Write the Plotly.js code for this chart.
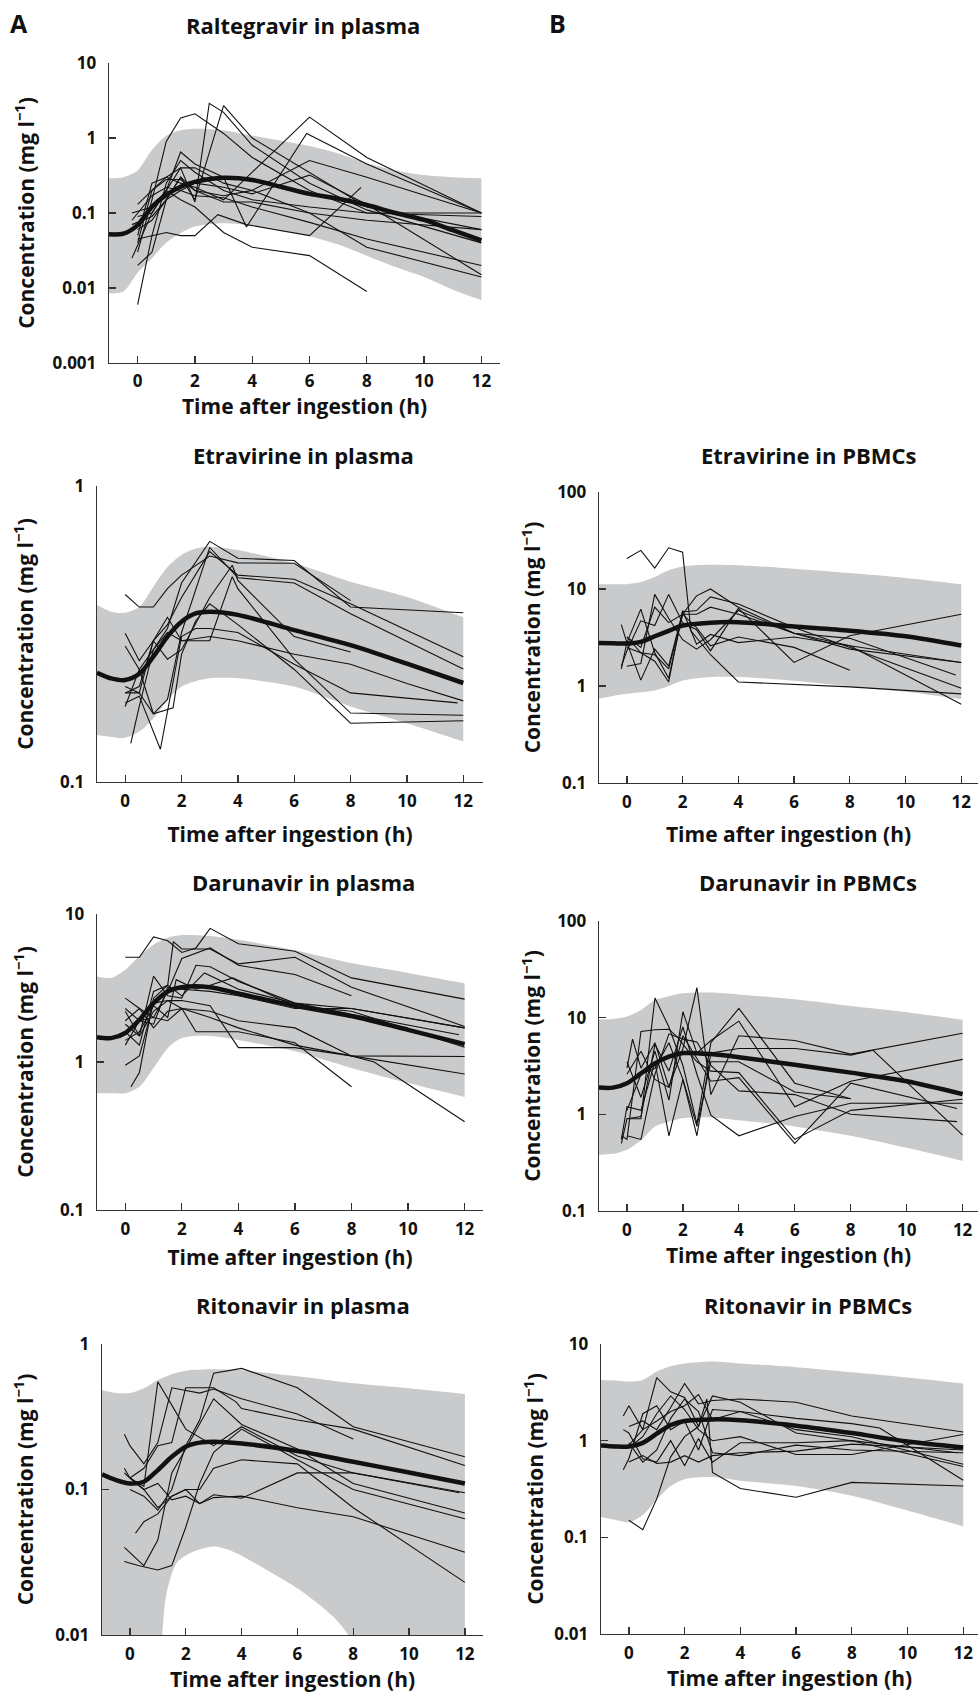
<!DOCTYPE html>
<html>
<head>
<meta charset="utf-8">
<script src="https://cdn.plot.ly/plotly-3.0.1.min.js"></script>
<style>html,body{margin:0;padding:0;background:#fff;}#chart{width:980px;height:1693px;}</style>
</head>
<body>
<div id="chart"></div>
<script>
// ---------------- DATA ----------------
const xTicks = [0, 2, 4, 6, 8, 10, 12];

// Raltegravir in plasma
const ralBandT = [-1, -0.5, 0, 0.5, 1, 1.5, 2, 3, 4, 5, 6, 7, 8, 9, 10, 11, 12];
const ralUpper = [0.29, 0.3, 0.37, 0.69, 1.07, 1.27, 1.33, 1.27, 1.07, 0.92, 0.78, 0.62, 0.46, 0.37, 0.32, 0.3, 0.29];
const ralLower = [0.0085, 0.009, 0.016, 0.025, 0.04, 0.054, 0.066, 0.073, 0.068, 0.06, 0.049, 0.038, 0.027, 0.019, 0.014, 0.0095, 0.0069];
const ralMean = [0.052, 0.053, 0.069, 0.121, 0.174, 0.224, 0.26, 0.295, 0.276, 0.224, 0.18, 0.155, 0.128, 0.1, 0.081, 0.059, 0.043];
const ralSubjT = [
  [0, 0.5, 1, 1.5, 2, 3, 4, 6, 8, 12],
  [-0.2, 0.5, 1, 1.5, 2, 2.5, 3, 4, 6, 8, 12],
  [0, 0.5, 1, 1.5, 2, 3, 4, 6, 8, 12],
  [0, 0.5, 1, 1.5, 2, 3, 4, 6, 8, 12],
  [-0.2, 0.5, 1, 1.5, 2, 3, 3.8, 5.9, 8, 12],
  [0, 0.5, 1, 1.5, 2, 3, 4, 6, 8],
  [0, 0.5, 1, 1.5, 2, 3, 4, 6, 8, 12],
  [0, 0.5, 1, 1.5, 2, 3, 4, 6, 8, 12],
  [-0.2, 0.5, 1, 1.5, 2, 3, 4, 6, 8, 12],
  [0, 0.5, 1, 1.5, 2, 2.8, 3.8, 6, 7.8],
  [0, 0.5, 1, 1.5, 2, 3, 4, 6, 8, 12],
  [0, 0.5, 1, 1.5, 2, 3, 4, 6, 8, 12],
  [-0.2, 0.5, 1, 1.5, 2, 3, 4, 6, 8, 12]
];
const ralSubjC = [
  [0.03, 0.15, 0.9, 1.85, 2.1, 1.15, 0.55, 0.2, 0.1, 0.1],
  [0.1, 0.12, 0.2, 0.4, 0.14, 2.9, 2.2, 0.8, 0.25, 0.11, 0.04],
  [0.06, 0.08, 0.15, 0.3, 0.15, 2.7, 1.0, 0.35, 0.12, 0.06],
  [0.04, 0.2, 0.3, 0.25, 0.22, 0.15, 0.35, 1.9, 0.55, 0.1],
  [0.025, 0.1, 0.2, 0.65, 0.45, 0.3, 0.065, 1.15, 0.45, 0.1],
  [0.09, 0.1, 0.2, 0.15, 0.12, 0.055, 0.035, 0.027, 0.009],
  [0.05, 0.25, 0.3, 0.4, 0.4, 0.25, 0.2, 0.5, 0.3, 0.1],
  [0.006, 0.05, 0.25, 0.5, 0.35, 0.2, 0.15, 0.12, 0.1, 0.09],
  [0.07, 0.09, 0.15, 0.2, 0.25, 0.22, 0.18, 0.32, 0.13, 0.015],
  [0.045, 0.05, 0.055, 0.05, 0.05, 0.095, 0.07, 0.05, 0.22],
  [0.13, 0.2, 0.28, 0.28, 0.2, 0.17, 0.2, 0.1, 0.08, 0.06],
  [0.02, 0.03, 0.15, 0.3, 0.2, 0.14, 0.14, 0.1, 0.035, 0.014],
  [0.08, 0.17, 0.22, 0.2, 0.17, 0.16, 0.12, 0.075, 0.045, 0.02]
];

// Etravirine in plasma
const etpBandT = [-1, -0.5, 0, 0.5, 1, 1.5, 2, 2.5, 3, 4, 6, 8, 10, 12];
const etpUpper = [0.396, 0.376, 0.373, 0.39, 0.457, 0.533, 0.585, 0.615, 0.624, 0.608, 0.548, 0.475, 0.422, 0.36];
const etpLower = [0.144, 0.142, 0.141, 0.148, 0.164, 0.189, 0.21, 0.219, 0.224, 0.224, 0.21, 0.18, 0.158, 0.137];
const etpMean = [0.234, 0.224, 0.221, 0.232, 0.265, 0.31, 0.348, 0.371, 0.376, 0.367, 0.326, 0.29, 0.251, 0.216];
const etpSubjT = [
  [0, 0.5, 1, 1.5, 2, 3, 4, 6, 8],
  [0, 0.5, 1, 1.5, 2, 3, 4, 6, 8, 12],
  [0, 0.5, 1, 1.5, 2, 3, 4, 6, 8, 12],
  [0, 0.5, 1, 1.5, 2, 3, 4, 6, 8, 12],
  [0, 0.5, 1.25, 2, 2.5, 3, 4, 6, 8, 11.8],
  [0.2, 0.5, 1, 1.5, 2, 3, 3.8, 4, 6, 8, 12],
  [0, 0.5, 1, 1.7, 2, 2.5, 3, 4, 6, 8, 12],
  [0, 0.5, 1, 1.5, 2, 3, 3.8, 4, 6, 8],
  [0, 0.5, 1, 1.5, 2, 3, 4, 6, 8, 10, 12]
];
const etpSubjC = [
  [0.43, 0.39, 0.39, 0.45, 0.5, 0.58, 0.55, 0.548, 0.41],
  [0.18, 0.24, 0.28, 0.33, 0.47, 0.65, 0.57, 0.56, 0.39, 0.373],
  [0.318, 0.257, 0.3, 0.34, 0.42, 0.6, 0.5, 0.484, 0.4, 0.265],
  [0.288, 0.24, 0.17, 0.19, 0.32, 0.62, 0.49, 0.47, 0.37, 0.241],
  [0.185, 0.195, 0.129, 0.31, 0.33, 0.33, 0.32, 0.25, 0.2, 0.185],
  [0.135, 0.18, 0.28, 0.32, 0.3, 0.3, 0.494, 0.45, 0.26, 0.171, 0.168],
  [0.21, 0.2, 0.17, 0.178, 0.27, 0.35, 0.4, 0.34, 0.24, 0.158, 0.161],
  [0.2, 0.2, 0.3, 0.26, 0.28, 0.42, 0.54, 0.48, 0.31, 0.275],
  [0.2, 0.21, 0.3, 0.36, 0.3, 0.31, 0.3, 0.27, 0.25, 0.215, 0.188]
];

// Etravirine in PBMCs
const etcBandT = [-1, -0.5, 0, 0.5, 1, 1.5, 2, 3, 4, 6, 8, 10, 12];
const etcUpper = [11.2, 11.2, 11.2, 11.8, 13.3, 15.6, 17.1, 17.8, 17.6, 16.2, 14.6, 13.0, 11.2];
const etcLower = [0.74, 0.79, 0.83, 0.86, 0.9, 1.0, 1.14, 1.24, 1.24, 1.13, 0.99, 0.87, 0.73];
const etcMean = [2.77, 2.76, 2.74, 2.85, 3.26, 3.7, 4.2, 4.5, 4.55, 4.1, 3.72, 3.26, 2.62];
const etcSubjT = [
  [0, 0.5, 1, 1.5, 2, 2.3, 3, 4, 8, 12],
  [-0.2, 0, 0.5, 1, 1.5, 2, 2.5, 3, 4, 6, 8, 12],
  [-0.2, 0, 0.5, 1, 1.5, 2, 2.5, 3, 4, 6, 8, 12],
  [0, 0.5, 1, 1.5, 2, 2.5, 3, 4, 6, 8, 12],
  [-0.2, 0, 0.5, 1, 1.5, 2, 2.5, 3, 4, 6, 8, 12],
  [0, 0.5, 1, 1.5, 2, 2.5, 3, 4, 6, 8],
  [0, 0.5, 1, 1.5, 2, 2.5, 3, 4, 6, 8, 11.8],
  [0, 0.5, 1, 1.5, 2, 2.5, 3, 4, 6, 8, 12]
];
const etcSubjC = [
  [20.6, 25, 16.4, 26.6, 24, 3.7, 2.1, 1.1, 0.98, 0.83],
  [1.5, 2.8, 6.2, 2.2, 1.2, 5.5, 8.5, 10, 6.5, 3.5, 2.6, 0.65],
  [4.3, 2.8, 1.15, 2.4, 1.6, 5.8, 6, 8.3, 7, 4, 2.5, 0.95],
  [1.6, 1.7, 8.8, 5, 3, 2.4, 3, 6, 3.5, 2.4, 1.75],
  [1.6, 2.3, 4.7, 4.2, 8.8, 4.5, 3.8, 2.3, 6.3, 1.75, 3.3, 5.5],
  [3.2, 2.2, 2.1, 1.5, 5.5, 4, 2.6, 3.2, 2.5, 1.45],
  [3.2, 2.5, 6.5, 4.5, 5.5, 5.5, 6.5, 5.5, 3.5, 3.1, 1.3],
  [2.5, 2.2, 1.8, 1.1, 6, 2.7, 3.4, 2.8, 3.2, 2.6, 1.75]
];

// Darunavir in plasma
const dapBandT = [-1, -0.5, 0, 0.5, 1, 1.5, 2, 3, 4, 6, 8, 10, 12];
const dapUpper = [3.78, 3.7, 4.2, 5.2, 6.2, 6.9, 7.2, 7.1, 6.7, 5.7, 4.66, 4.0, 3.4];
const dapLower = [0.615, 0.615, 0.615, 0.68, 0.91, 1.24, 1.45, 1.5, 1.41, 1.18, 0.91, 0.72, 0.58];
const dapMean = [1.47, 1.45, 1.57, 1.93, 2.5, 3.0, 3.2, 3.2, 2.9, 2.4, 2.04, 1.65, 1.32];
const dapSubjT = [
  [0, 0.5, 1, 1.5, 2, 2.5, 3, 4, 6, 8, 12],
  [0, 0.5, 1, 1.5, 1.7, 2, 3, 4, 6, 8, 12],
  [0, 0.5, 1, 1.5, 2, 3, 4, 6, 8],
  [0, 0.5, 1, 1.5, 2, 2.5, 3, 4, 6, 8, 12],
  [0.2, 0.5, 1, 1.5, 2, 2.8, 4, 6, 8, 11.8],
  [0, 0.5, 1, 1.5, 2, 3, 4, 6, 8, 8.8, 12],
  [0, 0.5, 1, 1.5, 1.8, 2.5, 3, 3.8, 6, 8, 12],
  [0, 0.5, 1, 1.5, 2, 2.5, 3, 4, 6, 8],
  [0, 0.5, 1, 1.5, 2, 3, 4, 6, 8, 12],
  [0, 0.5, 1, 1.5, 2, 3, 4, 6, 8, 12],
  [0, 0.5, 1, 1.5, 2, 3, 4, 6, 8, 12]
];
const dapSubjC = [
  [5.1, 5.1, 7.0, 6.6, 5.5, 5.9, 8.0, 6.3, 5.6, 3.7, 2.66],
  [1.6, 1.3, 3.0, 3.3, 6.5, 5.8, 5.8, 4.6, 5.1, 3.2, 1.74],
  [1.9, 2.3, 2.0, 3.0, 5.0, 5.9, 4.5, 3.9, 2.8],
  [2.2, 1.5, 3.8, 2.8, 2.7, 4.5, 4.4, 3.5, 2.5, 2.3, 1.7],
  [0.68, 0.85, 2.7, 3.3, 2.8, 4.0, 3.1, 2.5, 2.1, 1.53],
  [2.7, 2.3, 1.7, 2.2, 2.3, 2.2, 1.9, 1.7, 1.1, 1.0, 0.395],
  [1.4, 1.6, 2.4, 2.0, 3.6, 3.1, 3.3, 3.7, 2.4, 2.2, 1.26],
  [1.8, 1.5, 2.2, 2.6, 2.3, 1.6, 1.6, 1.6, 1.35, 0.68],
  [0.95, 1.1, 2.5, 2.6, 2.6, 2.4, 1.25, 1.25, 1.1, 1.09],
  [1.3, 1.9, 2.0, 1.9, 2.3, 2.0, 1.7, 1.3, 1.1, 0.83],
  [2.3, 1.9, 1.8, 3.2, 3.1, 3.0, 2.8, 2.3, 2.3, 1.7]
];

// Darunavir in PBMCs
const dacBandT = [-1, -0.5, 0, 0.5, 1, 1.5, 2, 3, 4, 6, 8, 10, 12];
const dacUpper = [9.6, 9.7, 10.3, 12.0, 15.2, 16.7, 17.9, 18.2, 17.4, 15.5, 13.2, 11.4, 9.5];
const dacLower = [0.38, 0.39, 0.43, 0.54, 0.75, 0.84, 0.91, 0.93, 0.87, 0.75, 0.6, 0.45, 0.33];
const dacMean = [1.89, 1.89, 2.1, 2.65, 3.37, 3.95, 4.3, 4.2, 3.9, 3.25, 2.7, 2.2, 1.62];
const dacSubjT = [
  [-0.2, 0, 0.5, 1, 1.5, 2, 2.5, 3, 4, 6, 8],
  [0, 0.5, 1, 1.5, 2, 2.5, 3, 4, 6, 8, 12],
  [0, 0.2, 0.5, 1, 1.5, 2, 2.5, 3, 4, 6, 8, 12],
  [-0.2, 0, 0.5, 1, 1.5, 1.8, 2.5, 3, 4, 6, 8, 12],
  [0, 0.5, 1, 1.5, 2, 2.5, 3, 4, 6, 8, 8.8, 12],
  [-0.2, 0, 0.5, 1, 1.5, 2, 2.5, 3, 4, 6, 8],
  [0, 0.5, 1, 1.5, 2, 2.5, 3, 4, 6, 8, 12],
  [0, 0.5, 1, 1.5, 2, 2.5, 3, 4, 6, 8, 11.8],
  [0, 0.5, 1, 1.5, 2, 2.5, 3, 4, 6, 8, 11.8]
];
const dacSubjC = [
  [0.5, 0.9, 0.9, 16, 8, 3.2, 0.8, 5.5, 12.5, 2.1, 1.45],
  [3.5, 1.5, 4.5, 1.4, 11.5, 4.3, 5.8, 9.2, 1.2, 2.2, 3.7],
  [3.0, 6.0, 3.0, 5.5, 1.9, 4.8, 20.5, 1.6, 6.5, 5.8, 4.2, 6.9],
  [0.6, 0.55, 7.2, 7.5, 7.6, 6.3, 3.5, 2.8, 2.7, 0.55, 1.1, 1.43],
  [1.1, 2.6, 3.0, 5.5, 2.3, 0.6, 4.3, 4.8, 4.8, 4.1, 4.6, 0.61],
  [0.55, 1.2, 1.1, 3.5, 0.6, 2.3, 0.75, 3.5, 3.5, 1.7, 1.45],
  [0.9, 0.95, 5.3, 2.8, 8.0, 2.6, 0.98, 0.6, 0.95, 1.3, 1.3],
  [0.6, 0.55, 2.6, 6.8, 6.0, 5.6, 3.2, 1.75, 1.6, 1.0, 0.84],
  [2.6, 4.5, 2.3, 1.9, 6.5, 3.8, 2.2, 2.4, 0.5, 2.1, 1.15]
];

// Ritonavir in plasma
const rtpUpperT = [-1, -0.5, 0, 0.5, 1, 1.5, 2, 3, 4, 6, 8, 10, 12];
const rtpUpper = [0.483, 0.46, 0.46, 0.496, 0.566, 0.62, 0.655, 0.67, 0.66, 0.6, 0.537, 0.496, 0.453];
const rtpLowerT = [-1, 0, 1.0, 1.16, 1.31, 1.67, 2.15, 2.99, 3.7, 4.9, 6.09, 7.28, 7.82, 8.5, 10, 12];
const rtpLower = [0.001, 0.001, 0.002, 0.01, 0.0193, 0.0311, 0.0364, 0.0405, 0.0374, 0.028, 0.0204, 0.0134, 0.01, 0.005, 0.002, 0.002];
const rtpMeanT = [-1, -0.5, 0, 0.5, 1, 1.5, 2, 2.5, 3, 4, 6, 8, 10, 12];
const rtpMean = [0.127, 0.116, 0.11, 0.113, 0.136, 0.168, 0.197, 0.21, 0.213, 0.207, 0.184, 0.155, 0.131, 0.11];
const rtpSubjT = [
  [0, 0.5, 1, 1.5, 2, 2.5, 3, 4, 6, 8, 12],
  [-0.2, 0, 0.5, 1, 1.5, 2, 3, 4, 6, 8, 11.8],
  [-0.2, 0, 0.5, 1, 1.5, 2, 2.5, 3, 4, 6, 8],
  [0, 0.5, 1, 1.5, 2, 3, 3.8, 4, 6, 8, 12],
  [-0.2, 0, 0.5, 1, 1.5, 2, 3, 4, 6, 8, 12],
  [-0.2, 0.3, 1, 1.5, 2, 2.5, 3, 4, 6, 8, 12],
  [0.2, 0.5, 1, 1.5, 2, 2.5, 3, 4, 6, 8, 12],
  [-0.2, 0, 0.5, 1, 1.5, 2, 2.5, 3, 4, 6, 8, 12],
  [0, 0.5, 1, 1.5, 2, 2.5, 3, 4, 6, 8, 12]
];
const rtpSubjC = [
  [0.1, 0.09, 0.072, 0.1, 0.2, 0.3, 0.63, 0.68, 0.5, 0.27, 0.168],
  [0.13, 0.12, 0.105, 0.55, 0.38, 0.26, 0.2, 0.27, 0.17, 0.13, 0.095],
  [0.24, 0.2, 0.15, 0.21, 0.5, 0.48, 0.46, 0.49, 0.42, 0.33, 0.222],
  [0.12, 0.14, 0.2, 0.21, 0.5, 0.5, 0.4, 0.36, 0.3, 0.26, 0.146],
  [0.04, 0.037, 0.03, 0.045, 0.13, 0.19, 0.42, 0.28, 0.19, 0.11, 0.069],
  [0.032, 0.03, 0.028, 0.03, 0.055, 0.11, 0.18, 0.26, 0.16, 0.1, 0.063],
  [0.05, 0.06, 0.068, 0.09, 0.1, 0.1, 0.14, 0.16, 0.15, 0.075, 0.023],
  [0.14, 0.12, 0.1, 0.11, 0.085, 0.09, 0.08, 0.092, 0.087, 0.13, 0.13, 0.095],
  [0.12, 0.1, 0.075, 0.09, 0.1, 0.08, 0.088, 0.09, 0.075, 0.065, 0.037]
];

// Ritonavir in PBMCs
const rtcBandT = [-1, -0.5, 0, 0.5, 1, 1.5, 2, 3, 4, 6, 8, 10, 12];
const rtcUpper = [4.25, 4.2, 4.1, 4.25, 5.2, 5.9, 6.3, 6.6, 6.3, 5.75, 5.1, 4.5, 3.9];
const rtcLower = [0.162, 0.152, 0.143, 0.17, 0.245, 0.34, 0.4, 0.42, 0.385, 0.34, 0.27, 0.19, 0.13];
const rtcMean = [0.89, 0.87, 0.87, 0.95, 1.18, 1.45, 1.6, 1.66, 1.63, 1.43, 1.2, 0.98, 0.85];
const rtcSubjT = [
  [0, 0.5, 1, 1.5, 2, 2.5, 2.8, 3, 4, 6, 8, 12],
  [-0.2, 0, 0.5, 1, 1.5, 2, 2.5, 3, 4, 6, 8, 12],
  [0, 0.5, 1, 1.5, 2, 2.5, 3, 4, 6, 8, 12],
  [-0.2, 0, 0.5, 1, 1.5, 2, 2.5, 3, 4, 6, 8, 9, 12],
  [0, 0.5, 1, 1.5, 2, 2.5, 3, 4, 6, 8, 12],
  [0, 0.5, 1, 1.5, 2, 2.5, 3, 4, 6, 8, 12],
  [-0.2, 0, 0.5, 1, 1.5, 2, 2.5, 3, 4, 6, 8, 11.8],
  [0, 0.5, 1, 1.5, 2, 2.5, 3, 4, 6, 8, 12],
  [0, 0.5, 1, 1.5, 2, 2.5, 3, 4, 6, 8, 12]
];
const rtcSubjC = [
  [0.15, 0.12, 0.25, 0.68, 1.1, 1.4, 2.7, 0.47, 0.32, 0.26, 0.37, 0.34],
  [1.8, 2.3, 1.3, 4.5, 3.2, 2.8, 1.4, 2.9, 2.5, 1.2, 1.0, 0.54],
  [1.4, 1.6, 1.3, 2.2, 3.9, 2.4, 2.6, 2.7, 2.5, 1.8, 1.23],
  [0.5, 0.65, 1.9, 2.3, 1.3, 1.6, 0.8, 2.1, 2.0, 1.7, 1.5, 1.35, 0.39],
  [0.95, 0.6, 0.8, 1.7, 2.7, 2.0, 0.75, 0.7, 0.9, 0.8, 0.75],
  [0.85, 1.1, 1.9, 2.9, 2.1, 1.3, 1.0, 1.1, 0.72, 0.72, 1.16],
  [1.3, 1.2, 0.65, 0.6, 1.0, 0.55, 1.05, 0.6, 0.95, 0.95, 1.0, 0.75],
  [0.6, 0.7, 0.58, 0.6, 0.7, 0.6, 0.7, 0.75, 0.78, 0.92, 0.8],
  [0.9, 1.3, 1.6, 2.0, 2.3, 3.0, 1.65, 2.0, 1.3, 1.1, 0.57]
];

// Titles
const panelTitles = ['Raltegravir in plasma', 'Etravirine in plasma', 'Etravirine in PBMCs',
  'Darunavir in plasma', 'Darunavir in PBMCs', 'Ritonavir in plasma', 'Ritonavir in PBMCs'];
const xTitle = 'Time after ingestion (h)';
const yTitle = 'Concentration (mg l<sup>−1</sup>)';

// ---------------- LAYOUT / BUILD ----------------
const W = 980, H = 1693;
const px = v => v / W;
const py = v => 1 - v / H;
const FONT = '"Open Sans", Lato, "DejaVu Sans", sans-serif';
const BAND = '#c9cacc';
const AXC = '#333';

const panels = [
  {band: [ralBandT, ralUpper, ralBandT, ralLower], mean: [ralBandT, ralMean], subj: [ralSubjT, ralSubjC],
   box: [109, 500, 63, 363], xr: [-1, 12.65], yr: [-3, 1],
   yv: [0.001, 0.01, 0.1, 1, 10], title: [303, 25], xs: 0, xls: 2, ys: 12},
  {band: [etpBandT, etpUpper, etpBandT, etpLower], mean: [etpBandT, etpMean], subj: [etpSubjT, etpSubjC],
   box: [97, 483, 486, 782], xr: [-1, 12.7], yr: [-1, 0],
   yv: [0.1, 1], title: [303, 455], xs: 16, xls: 3, ys: 20},
  {band: [etcBandT, etcUpper, etcBandT, etcLower], mean: [etcBandT, etcMean], subj: [etcSubjT, etcSubjC],
   box: [599, 978, 492, 783], xr: [-1, 12.6], yr: [-1, 2],
   yv: [0.1, 1, 10, 100], title: [808, 455], xs: 15, xls: 3, ys: 10},
  {band: [dapBandT, dapUpper, dapBandT, dapLower], mean: [dapBandT, dapMean], subj: [dapSubjT, dapSubjC],
   box: [97, 483, 914, 1210], xr: [-1, 12.65], yr: [-1, 1],
   yv: [0.1, 1, 10], title: [303, 882], xs: 11, xls: 3, ys: 20},
  {band: [dacBandT, dacUpper, dacBandT, dacLower], mean: [dacBandT, dacMean], subj: [dacSubjT, dacSubjC],
   box: [599, 978, 921, 1211], xr: [-1, 12.55], yr: [-1, 2],
   yv: [0.1, 1, 10, 100], title: [808, 882], xs: 8, xls: 3, ys: 10},
  {band: [rtpUpperT, rtpUpper, rtpLowerT, rtpLower], mean: [rtpMeanT, rtpMean], subj: [rtpSubjT, rtpSubjC],
   box: [102, 483, 1344, 1635], xr: [-1, 12.65], yr: [-2, 0],
   yv: [0.01, 0.1, 1], title: [303, 1305], xs: 6, xls: 3, ys: 16},
  {band: [rtcBandT, rtcUpper, rtcBandT, rtcLower], mean: [rtcBandT, rtcMean], subj: [rtcSubjT, rtcSubjC],
   box: [601, 978, 1344, 1634], xr: [-1, 12.53], yr: [-2, 1],
   yv: [0.01, 0.1, 1, 10], title: [808, 1305], xs: 8, xls: 3, ys: 5}
];

const traces = [];
const layout = {
  width: W, height: H, margin: {l: 0, r: 0, t: 0, b: 0},
  paper_bgcolor: '#fff', plot_bgcolor: 'rgba(0,0,0,0)',
  showlegend: false, font: {family: FONT, color: '#111'},
  annotations: []
};

const tickFont = {family: FONT, size: 17, weight: 'bold', color: '#111'};
const labelFont = {family: FONT, size: 21, weight: 'bold', color: '#111'};
const titleFont = {family: FONT, size: 22, weight: 'bold', color: '#111'};
const letterFont = {family: FONT, size: 25, weight: 'bold', color: '#111'};

panels.forEach((p, i) => {
  const n = i + 1;
  const xa = n === 1 ? 'x' : 'x' + n;
  const ya = n === 1 ? 'y' : 'y' + n;
  const [l, r, t, b] = p.box;

  traces.push({x: p.band[2], y: p.band[3], xaxis: xa, yaxis: ya, type: 'scatter', mode: 'lines',
    line: {width: 0, shape: 'spline', smoothing: 0.8, color: BAND}, hoverinfo: 'skip'});
  traces.push({x: p.band[0], y: p.band[1], xaxis: xa, yaxis: ya, type: 'scatter', mode: 'lines',
    line: {width: 0, shape: 'spline', smoothing: 0.8, color: BAND}, fill: 'tonexty', fillcolor: BAND, hoverinfo: 'skip'});

  p.subj[0].forEach((ts, k) => {
    traces.push({x: ts, y: p.subj[1][k], xaxis: xa, yaxis: ya, type: 'scatter', mode: 'lines',
      line: {width: 1.1, color: '#111'}, hoverinfo: 'skip'});
  });

  traces.push({x: p.mean[0], y: p.mean[1], xaxis: xa, yaxis: ya, type: 'scatter', mode: 'lines',
    line: {width: 4.5, color: '#111', shape: 'spline', smoothing: 0.8}, hoverinfo: 'skip'});

  const axCommon = {showline: true, linecolor: AXC, linewidth: 1.3, ticks: 'inside', ticklen: 7,
    tickwidth: 1.3, tickcolor: AXC, showgrid: false, zeroline: false, fixedrange: true,
    tickfont: tickFont, automargin: false};
  layout[n === 1 ? 'xaxis' : 'xaxis' + n] = Object.assign({}, axCommon, {
    domain: [px(l), px(r)], anchor: ya, range: p.xr, tickmode: 'array', tickvals: xTicks,
    ticktext: xTicks.map(String), ticklabelstandoff: p.xls,
    title: {text: xTitle, font: labelFont, standoff: p.xs}});
  layout[n === 1 ? 'yaxis' : 'yaxis' + n] = Object.assign({}, axCommon, {
    domain: [py(b), py(t)], anchor: xa, type: 'log', range: p.yr, tickmode: 'array',
    tickvals: p.yv, ticktext: p.yv.map(v => String(v)), ticklabelstandoff: 8,
    title: {text: yTitle, font: labelFont, standoff: p.ys}});

  layout.annotations.push({text: panelTitles[i], xref: 'paper', yref: 'paper', x: px(p.title[0]), y: py(p.title[1]),
    xanchor: 'center', yanchor: 'middle', showarrow: false, font: titleFont});
});

layout.annotations.push({text: 'A', xref: 'paper', yref: 'paper', x: px(19), y: py(23),
  xanchor: 'center', yanchor: 'middle', showarrow: false, font: letterFont});
layout.annotations.push({text: 'B', xref: 'paper', yref: 'paper', x: px(557), y: py(23),
  xanchor: 'center', yanchor: 'middle', showarrow: false, font: letterFont});

Plotly.newPlot('chart', traces, layout, {displayModeBar: false, staticPlot: true});
</script>
</body>
</html>
